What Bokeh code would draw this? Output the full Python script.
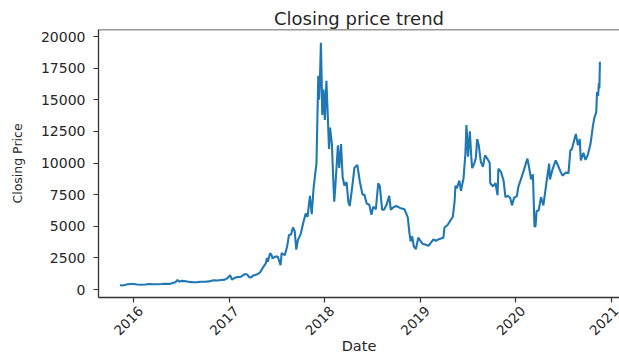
from datetime import datetime, timedelta
from math import pi

from bokeh.plotting import figure
from bokeh.models import (Range1d, FixedTicker, BasicTickFormatter, Span,
                          LinearAxis, ColumnDataSource)
from bokeh.embed import file_html
from bokeh.resources import INLINE

# Daily closing price (sampled), Nov 2015 - Nov 2020
dates = [
    "2015-11-10", "2015-11-20", "2015-12-01", "2015-12-10", "2015-12-20",
    "2016-01-01", "2016-01-15", "2016-02-01", "2016-02-15", "2016-03-01",
    "2016-03-15", "2016-04-01", "2016-04-15", "2016-05-01", "2016-05-20",
    "2016-06-01", "2016-06-10", "2016-06-17", "2016-06-23", "2016-07-01",
    "2016-07-15", "2016-08-01", "2016-08-15", "2016-09-01", "2016-09-15",
    "2016-10-01", "2016-10-15", "2016-11-01", "2016-11-15", "2016-12-01",
    "2016-12-15", "2016-12-25", "2017-01-04", "2017-01-11", "2017-01-20",
    "2017-02-01", "2017-02-15", "2017-03-01", "2017-03-10", "2017-03-18",
    "2017-03-25", "2017-04-01", "2017-04-15", "2017-04-28", "2017-05-10",
    "2017-05-20", "2017-05-25", "2017-05-28", "2017-06-06", "2017-06-12",
    "2017-06-15", "2017-06-25", "2017-07-05", "2017-07-16", "2017-07-20",
    "2017-08-01", "2017-08-10", "2017-08-17", "2017-08-25", "2017-09-01",
    "2017-09-08", "2017-09-14", "2017-09-20", "2017-10-01", "2017-10-12",
    "2017-10-20", "2017-10-27", "2017-11-05", "2017-11-12", "2017-11-19",
    "2017-11-26", "2017-11-30", "2017-12-07", "2017-12-10", "2017-12-13",
    "2017-12-17", "2017-12-20", "2017-12-22", "2017-12-27", "2018-01-01",
    "2018-01-07", "2018-01-12", "2018-01-17", "2018-01-21", "2018-01-28",
    "2018-02-02", "2018-02-06", "2018-02-10", "2018-02-20", "2018-02-25",
    "2018-03-04", "2018-03-10", "2018-03-17", "2018-03-25", "2018-04-01",
    "2018-04-06", "2018-04-15", "2018-04-24", "2018-05-05", "2018-05-15",
    "2018-05-25", "2018-06-01", "2018-06-10", "2018-06-20", "2018-06-28",
    "2018-07-05", "2018-07-15", "2018-07-24", "2018-07-30", "2018-08-08",
    "2018-08-15", "2018-08-25", "2018-09-04", "2018-09-10", "2018-09-20",
    "2018-10-01", "2018-10-15", "2018-11-01", "2018-11-14", "2018-11-20",
    "2018-11-25", "2018-12-01", "2018-12-07", "2018-12-15", "2018-12-24",
    "2019-01-01", "2019-01-10", "2019-01-20", "2019-02-01", "2019-02-08",
    "2019-02-20", "2019-03-01", "2019-03-15", "2019-03-30", "2019-04-03",
    "2019-04-15", "2019-04-24", "2019-05-05", "2019-05-12", "2019-05-15",
    "2019-05-20", "2019-05-30", "2019-06-05", "2019-06-15", "2019-06-22",
    "2019-06-26", "2019-06-29", "2019-07-02", "2019-07-09", "2019-07-15",
    "2019-07-18", "2019-07-25", "2019-08-01", "2019-08-06", "2019-08-12",
    "2019-08-20", "2019-08-28", "2019-09-05", "2019-09-15", "2019-09-23",
    "2019-09-25", "2019-10-05", "2019-10-15", "2019-10-23", "2019-10-26",
    "2019-11-05", "2019-11-15", "2019-11-22", "2019-12-01", "2019-12-10",
    "2019-12-17", "2019-12-25", "2020-01-05", "2020-01-10", "2020-01-20",
    "2020-01-31", "2020-02-10", "2020-02-14", "2020-02-20", "2020-02-28",
    "2020-03-06", "2020-03-12", "2020-03-16", "2020-03-20", "2020-03-28",
    "2020-04-06", "2020-04-15", "2020-04-29", "2020-05-07", "2020-05-10",
    "2020-05-20", "2020-06-01", "2020-06-10", "2020-06-20", "2020-06-27",
    "2020-07-10", "2020-07-20", "2020-07-27", "2020-08-02", "2020-08-17",
    "2020-08-25", "2020-09-01", "2020-09-05", "2020-09-15", "2020-09-23",
    "2020-10-01", "2020-10-12", "2020-10-21", "2020-10-27", "2020-11-03",
    "2020-11-06", "2020-11-10", "2020-11-13", "2020-11-15", "2020-11-17",
]
close = [
    330, 320, 370, 420, 440,
    430, 390, 375, 400, 430,
    415, 420, 430, 450, 445,
    540, 580, 760, 620, 680,
    665, 600, 570, 580, 610,
    615, 640, 730, 710, 755,
    780, 900, 1140, 780, 900,
    980, 1010, 1220, 1190, 970,
    960, 1080, 1180, 1340, 1750,
    2040, 2500, 2190, 2870, 2700,
    2450, 2600, 2610, 1930, 2870,
    2710, 3400, 4300, 4350, 4900,
    4600, 3150, 3900, 4400, 5400,
    6000, 5750, 7400, 5950, 8000,
    9300, 9900, 16900, 15000, 16400,
    19500, 16600, 13800, 15800, 13400,
    16500, 13900, 11100, 12800, 11500,
    8800, 6950, 8100, 11400, 9600,
    11500, 8900, 8200, 8500, 6900,
    6600, 8000, 9600, 9850, 8500,
    7500, 7500, 6800, 6700, 5900,
    6550, 6350, 8400, 8200, 6300,
    6300, 6700, 7400, 6300, 6500,
    6600, 6450, 6350, 5700, 4500,
    3800, 4200, 3400, 3200, 4100,
    3850, 3600, 3550, 3450, 3650,
    3950, 3850, 4000, 4100, 4900,
    5100, 5400, 5750, 7000, 8200,
    8000, 8600, 7800, 8800, 10700,
    13000, 11900, 10500, 12500, 10300,
    9600, 9900, 10400, 11900, 11400,
    10100, 9700, 10600, 10300, 10000,
    8400, 8150, 8400, 7450, 9550,
    9300, 8600, 7300, 7400, 7250,
    6650, 7250, 7400, 8100, 8700,
    9400, 10100, 10350, 9700, 8700,
    9100, 4970, 5000, 6200, 6250,
    7300, 6650, 8800, 9950, 8700,
    9500, 10200, 9800, 9300, 9000,
    9250, 9200, 11000, 11100, 12300,
    11400, 11900, 10200, 10800, 10250,
    10600, 11500, 12900, 13600, 14000,
    15600, 15300, 16300, 15900, 18000,
]
year_ticks = [2016, 2017, 2018, 2019, 2020, 2021]
price_ticks = [0, 2500, 5000, 7500, 10000, 12500, 15000, 17500, 20000]

W, H = 619, 356
LEFT, TOP, BOTTOM = 98, 29, 297
TEXT = "#262626"
AXIS = "#333333"
FONT = "DejaVu Sans"

EPOCH = datetime(1970, 1, 1)


def to_ms(d):
    return (d - EPOCH).total_seconds() * 1000.0


# axis scales: pixels per year and pixels per price unit
px_per_year = 95.6
ms_per_px = 365.25 * 86400000.0 / px_per_year
x_start = datetime(2016, 1, 1) - timedelta(days=35 / px_per_year * 365.25)
x_end = x_start + timedelta(days=(W - LEFT) / px_per_year * 365.25)
px_per_unit = 253 / 20000
y_start = -8 / px_per_unit
y_end = 20000 + 7 / px_per_unit

x = [datetime.strptime(d, "%Y-%m-%d") for d in dates]
src = ColumnDataSource(dict(date=x, close=close))

p = figure(width=W, height=H, x_axis_type="datetime",
           x_range=Range1d(x_start, x_end), y_range=Range1d(y_start, y_end),
           output_backend="svg", toolbar_location=None,
           min_border_left=LEFT, min_border_right=0,
           min_border_top=TOP, min_border_bottom=H - BOTTOM,
           title="Closing price trend")
p.outline_line_color = None
p.grid.visible = False
p.background_fill_color = "white"
p.border_fill_color = "white"

p.title.align = "center"
p.title.text_font = FONT
p.title.text_font_style = "normal"
p.title.text_font_size = "18px"
p.title.text_color = TEXT
p.title.standoff = 2

p.line("date", "close", source=src, line_color="#1f77b4", line_width=2.1)

# top spine
p.add_layout(Span(location=y_end, dimension="width", line_color=AXIS, line_width=1.3))

year_ms = [to_ms(datetime(y, 1, 1)) for y in year_ticks]

for ax in (p.xaxis[0], p.yaxis[0]):
    ax.axis_line_color = AXIS
    ax.axis_line_width = 1.3
    ax.major_tick_line_color = AXIS
    ax.major_tick_line_width = 1.2
    ax.major_tick_out = 5
    ax.major_tick_in = 0
    ax.minor_tick_line_color = None
    ax.major_label_text_font = FONT
    ax.major_label_text_font_size = "14px"
    ax.major_label_text_color = TEXT
    ax.axis_label_text_font = FONT
    ax.axis_label_text_font_style = "normal"
    ax.axis_label_text_color = TEXT

p.yaxis.ticker = FixedTicker(ticks=price_ticks)
p.yaxis.formatter = BasicTickFormatter(use_scientific=False)
p.yaxis.major_label_standoff = 8
p.yaxis.axis_label = "Closing Price"
p.yaxis.axis_label_text_font_size = "12.5px"
p.yaxis.axis_label_standoff = 13

# bottom spine with the yearly ticks only
p.xaxis.ticker = FixedTicker(ticks=year_ms)
p.xaxis.major_label_overrides = {t: "" for t in year_ms}
p.xaxis.major_label_text_font_size = "0px"
p.xaxis.major_label_standoff = 0

# second bottom axis carrying the rotated year labels, centred under the ticks
shift = 7 * ms_per_px
label_pos = [t + shift for t in year_ms]
year_axis = LinearAxis(
    ticker=FixedTicker(ticks=label_pos),
    major_label_overrides={t: str(y) for t, y in zip(label_pos, year_ticks)},
    major_label_orientation=pi / 4,
    major_label_standoff=6,
    major_label_text_font=FONT, major_label_text_font_size="13.5px",
    major_label_text_color=TEXT,
    axis_line_color=None, major_tick_line_color=None, minor_tick_line_color=None,
    major_tick_out=0, major_tick_in=0,
    axis_label="Date", axis_label_standoff=-5,
    axis_label_text_font=FONT, axis_label_text_font_style="normal",
    axis_label_text_font_size="14.5px", axis_label_text_color=TEXT,
)
p.add_layout(year_axis, "below")

open("out.html", "w").write(file_html(p, INLINE))
